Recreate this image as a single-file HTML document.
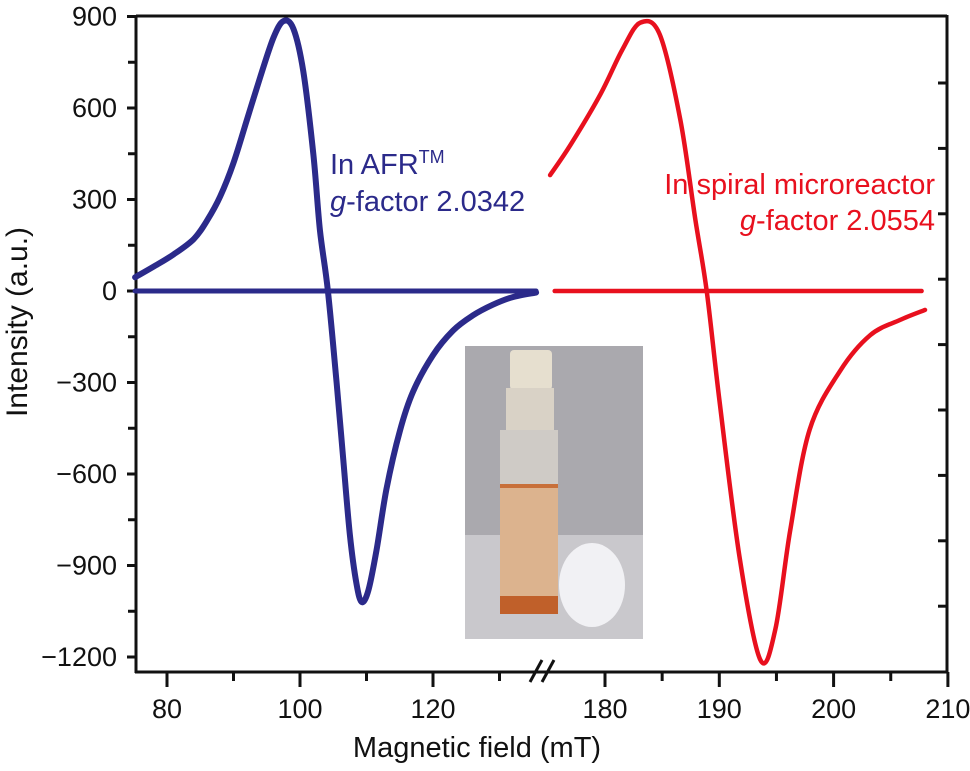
<!DOCTYPE html>
<html><head><meta charset="utf-8"><style>
body{margin:0;background:#fff;}
svg text{font-family:"Liberation Sans",Arial,sans-serif;}
</style></head><body>
<svg id="chart" width="970" height="766" viewBox="0 0 970 766" xmlns="http://www.w3.org/2000/svg">
<g id="inset">
<rect x="465" y="346" width="178" height="293" fill="#aaa9ae"/>
<rect x="465" y="535" width="178" height="104" fill="#c9c8cc"/>
<rect x="510" y="350" width="42" height="40" rx="4" fill="#e6dfcf"/>
<rect x="506" y="388" width="48" height="48" fill="#d9d2c6"/>
<rect x="500" y="430" width="58" height="55" fill="#cfcbc6"/>
<rect x="500" y="485" width="58" height="125" fill="#dcb38e"/>
<rect x="500" y="484" width="58" height="4" fill="#c8703a"/>
<rect x="500" y="596" width="58" height="18" fill="#c0602a"/>
<ellipse cx="592" cy="585" rx="33" ry="42" fill="#f1f1f4"/>
</g>
<g id="axes" stroke="#111" stroke-width="3" fill="none">
<line x1="136" y1="16" x2="947" y2="16"/>
<line x1="136" y1="15" x2="136" y2="673"/>
<line x1="947" y1="15" x2="947" y2="673"/>
<line x1="135" y1="672" x2="948" y2="672"/>
<line x1="530" y1="682" x2="542" y2="660"/>
<line x1="542" y1="682" x2="554" y2="660"/>
</g>
<g id="ticks" stroke="#111" stroke-width="3"></g>
<g id="lbls" font-size="27" fill="#111"></g>
<g id="series"></g>
<text transform="translate(27,322) rotate(-90)" text-anchor="middle" font-size="30" fill="#111">Intensity (a.u.)</text>
<text x="477" y="757" text-anchor="middle" font-size="29" fill="#111">Magnetic field (mT)</text>
<text x="330" y="174" font-size="29" fill="#2b2a8a">In AFR<tspan dy="-11" font-size="18">TM</tspan></text>
<text x="330" y="211" font-size="29" fill="#2b2a8a"><tspan font-style="italic">g</tspan>-factor 2.0342</text>
<text x="935" y="194" text-anchor="end" font-size="29" fill="#e8101e">In spiral microreactor</text>
<text x="935" y="230" text-anchor="end" font-size="29" fill="#e8101e"><tspan font-style="italic">g</tspan>-factor 2.0554</text>
</svg>
<script>
const yTicks=[900,600,300,0,-300,-600,-900,-1200];
const xTicksLeft=[80,100,120];
const xMinorLeft=[90,110,130];
const xTicksRight=[180,190,200,210];
const xMinorRight=[185,195,205];
const blueX=[75.2,78,81,84,86,88,90,92,94,96,97.5,99,100.5,102,103,104.2,105.5,106.5,107.5,108.5,109.3,110.3,111.5,113,115,117,120,123,126,129,132,135.5];
const blueY=[45,80,120,170,230,310,420,560,700,830,885,860,720,450,200,0,-300,-550,-800,-960,-1020,-980,-850,-650,-460,-330,-210,-130,-80,-45,-20,-5];
const redX=[175.2,177,179.6,181.5,183.1,184.8,186.6,187.9,188.9,190,191.8,193.6,194.9,196.2,197.9,200.6,203.2,205.8,208];
const redY=[380,480,645,790,880,840,560,235,0,-355,-880,-1210,-1110,-785,-455,-260,-145,-95,-62];
const baseBlue=[75.2,135.5];
const baseRed=[175.6,207.7];
const yS=v=>291-(v/300)*91.5;
const xL=v=>300+(v-100)*6.65;
const xR=v=>605+(v-180)*11.43;
const NS="http://www.w3.org/2000/svg";
function mk(tag,parent,attrs){const e=document.createElementNS(NS,tag);for(const k in attrs)e.setAttribute(k,attrs[k]);parent.appendChild(e);return e;}
const tg=document.getElementById('ticks'),lg=document.getElementById('lbls'),sg=document.getElementById('series');
yTicks.forEach(v=>{const y=yS(v);
 const t=mk('line',tg,{x1:127,y1:y,x2:136,y2:y});
 
 
 const l=mk('text',lg,{x:117,y:y+9,'text-anchor':'end'});l.textContent=v<0?'\u2212'+Math.abs(v):v;
 
 
 const m=mk('line',tg,{x1:136,y1:y+45.75,x2:128,y2:y+45.75});
 if(v===-1200)m.remove();
 
 
});
for(let y=83;y<660;y+=65.4){const t=mk('line',tg,{x1:938,y1:y,x2:947,y2:y});
 
 }
function xt(vals,f,major){vals.forEach(v=>{const x=f(v);
 const t=mk('line',tg,{x1:x,y1:672,x2:x,y2:major?687:681});
 
 
 if(major){const l=mk('text',lg,{x:x,y:718,'text-anchor':'middle'});l.textContent=v;
 
 }});}
xt(xTicksLeft,xL,true);xt(xMinorLeft,xL,false);xt(xTicksRight,xR,true);xt(xMinorRight,xR,false);
function line(xs,ys,f,color,name,w){
 const P=xs.map((x,i)=>[f(x),yS(ys[i])]);
 let d='M'+P[0][0].toFixed(1)+','+P[0][1].toFixed(1);
 for(let i=0;i<P.length-1;i++){const p0=P[i-1]||P[i],p1=P[i],p2=P[i+1],p3=P[i+2]||p2;
  const c1=[p1[0]+(p2[0]-p0[0])/6,p1[1]+(p2[1]-p0[1])/6],c2=[p2[0]-(p3[0]-p1[0])/6,p2[1]-(p3[1]-p1[1])/6];
  d+=' C'+c1.map(n=>n.toFixed(1))+' '+c2.map(n=>n.toFixed(1))+' '+p2.map(n=>n.toFixed(1));}
 const p=mk('path',sg,{d:d,fill:'none',stroke:color,'stroke-width':w,'stroke-linejoin':'round','stroke-linecap':'round'});
 
 }
line(baseBlue,[0,0],xL,'#2b2a8a','afr-baseline',5);
line(baseRed,[0,0],xR,'#e8101e','spiral-baseline',4.5);
line(blueX,blueY,xL,'#2b2a8a','afr-epr-curve',6);
line(redX,redY,xR,'#e8101e','spiral-epr-curve',4.5);
</script>
</body></html>
